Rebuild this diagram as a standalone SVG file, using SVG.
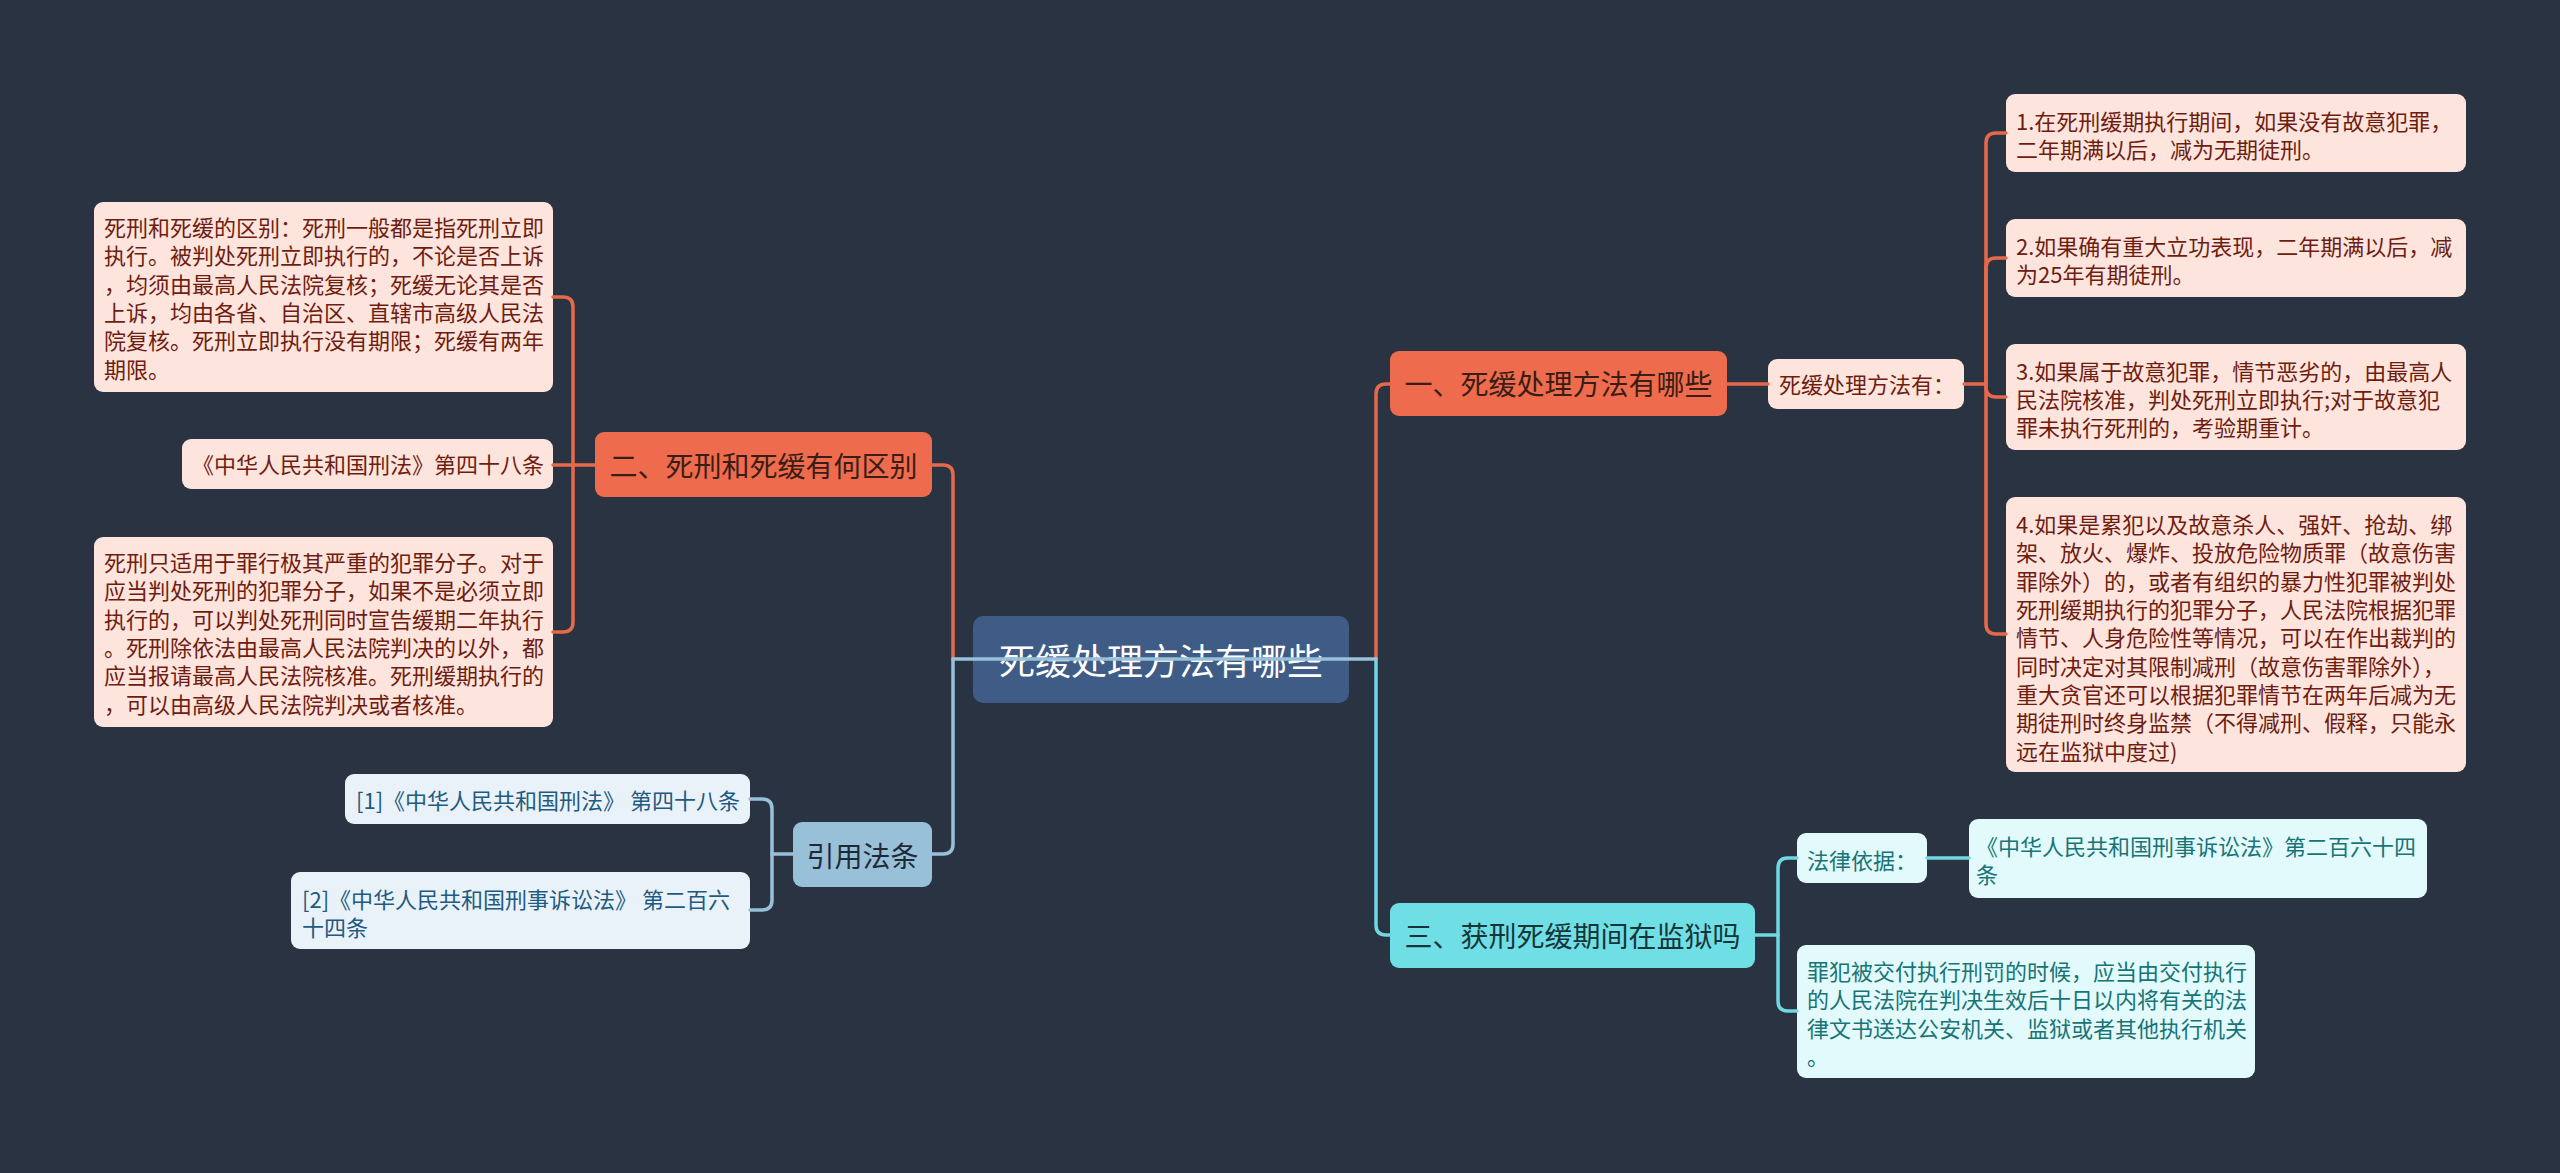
<svg xmlns="http://www.w3.org/2000/svg" width="2560" height="1173" viewBox="0 0 2560 1173">
<style>
text{font-family:"Noto Sans CJK SC","Noto Sans",sans-serif}
.bg{fill:#2a3341}
.root rect{fill:#3f5c86}
.root text{fill:#ffffff;font-size:36px;text-anchor:middle}
.mo rect{fill:#ee6c4d}
.mo text{fill:#3a1d14;font-size:28px;text-anchor:middle}
.mb rect{fill:#98c1d9}
.mb text{fill:#1f2a36;font-size:28px;text-anchor:middle}
.mt rect{fill:#6fdfe5}
.mt text{fill:#163538;font-size:28px;text-anchor:middle}
.lo rect{fill:#fde4dd}
.lo text{fill:#6e1d10;font-size:22px}
.lb rect{fill:#e9f2f8}
.lb text{fill:#1f5a82;font-size:22px}
.lt rect{fill:#e2fafb}
.lt text{fill:#177477;font-size:22px}
#connectors path{fill:none;stroke-width:3.5;stroke-linecap:round;stroke-linejoin:round}
.co{stroke:#e8694a}
.cb{stroke:#98c1d9}
.ct{stroke:#6fd8e0}
</style>
<rect class="bg" x="0" y="0" width="2560" height="1173"/>

<g id="root" class="root">
<rect x="973" y="616" width="376" height="87" rx="10"/>
<text x="1161" y="675">死缓处理方法有哪些</text>
</g>

<g id="n1" class="mo">
<rect x="1390" y="351" width="337" height="65" rx="9"/>
<text x="1558.5" y="395">一、死缓处理方法有哪些</text>
</g>
<g id="n1a" class="lo">
<rect x="1768" y="359" width="196" height="50" rx="9"/>
<text x="1779" y="393">死缓处理方法有：</text>
</g>
<g id="n1a1" class="lo">
<rect x="2006" y="94" width="460" height="78" rx="9"/>
<text x="2016" y="130">1.在死刑缓期执行期间，如果没有故意犯罪，</text>
<text x="2016" y="158">二年期满以后，减为无期徒刑。</text>
</g>
<g id="n1a2" class="lo">
<rect x="2006" y="219" width="460" height="78" rx="9"/>
<text x="2016" y="255">2.如果确有重大立功表现，二年期满以后，减</text>
<text x="2016" y="283">为25年有期徒刑。</text>
</g>
<g id="n1a3" class="lo">
<rect x="2006" y="344" width="460" height="106" rx="9"/>
<text x="2016" y="380">3.如果属于故意犯罪，情节恶劣的，由最高人</text>
<text x="2016" y="408">民法院核准，判处死刑立即执行;对于故意犯</text>
<text x="2016" y="436">罪未执行死刑的，考验期重计。</text>
</g>
<g id="n1a4" class="lo">
<rect x="2006" y="497" width="460" height="275" rx="9"/>
<text x="2016" y="533">4.如果是累犯以及故意杀人、强奸、抢劫、绑</text>
<text x="2016" y="561">架、放火、爆炸、投放危险物质罪（故意伤害</text>
<text x="2016" y="590">罪除外）的，或者有组织的暴力性犯罪被判处</text>
<text x="2016" y="618">死刑缓期执行的犯罪分子，人民法院根据犯罪</text>
<text x="2016" y="646">情节、人身危险性等情况，可以在作出裁判的</text>
<text x="2016" y="675">同时决定对其限制减刑（故意伤害罪除外），</text>
<text x="2016" y="703">重大贪官还可以根据犯罪情节在两年后减为无</text>
<text x="2016" y="731">期徒刑时终身监禁（不得减刑、假释，只能永</text>
<text x="2016" y="760">远在监狱中度过)</text>
</g>

<g id="n2" class="mo">
<rect x="595" y="432" width="337" height="65" rx="9"/>
<text x="763.5" y="477">二、死刑和死缓有何区别</text>
</g>
<g id="n2a" class="lo">
<rect x="94" y="202" width="459" height="190" rx="9"/>
<text x="104" y="236">死刑和死缓的区别：死刑一般都是指死刑立即</text>
<text x="104" y="264">执行。被判处死刑立即执行的，不论是否上诉</text>
<text x="104" y="293">，均须由最高人民法院复核；死缓无论其是否</text>
<text x="104" y="321">上诉，均由各省、自治区、直辖市高级人民法</text>
<text x="104" y="349">院复核。死刑立即执行没有期限；死缓有两年</text>
<text x="104" y="378">期限。</text>
</g>
<g id="n2b" class="lo">
<rect x="182" y="439" width="371" height="50" rx="9"/>
<text x="192" y="473">《中华人民共和国刑法》第四十八条</text>
</g>
<g id="n2c" class="lo">
<rect x="94" y="537" width="459" height="190" rx="9"/>
<text x="104" y="571">死刑只适用于罪行极其严重的犯罪分子。对于</text>
<text x="104" y="599">应当判处死刑的犯罪分子，如果不是必须立即</text>
<text x="104" y="628">执行的，可以判处死刑同时宣告缓期二年执行</text>
<text x="104" y="656">。死刑除依法由最高人民法院判决的以外，都</text>
<text x="104" y="684">应当报请最高人民法院核准。死刑缓期执行的</text>
<text x="104" y="713">，可以由高级人民法院判决或者核准。</text>
</g>

<g id="n3" class="mb">
<rect x="793" y="822" width="139" height="65" rx="9"/>
<text x="862.5" y="867">引用法条</text>
</g>
<g id="n3a" class="lb">
<rect x="345" y="774" width="405" height="50" rx="9"/>
<text x="356" y="809">[1]《中华人民共和国刑法》 第四十八条</text>
</g>
<g id="n3b" class="lb">
<rect x="291" y="872" width="459" height="77" rx="9"/>
<text x="302" y="908">[2]《中华人民共和国刑事诉讼法》 第二百六</text>
<text x="302" y="936">十四条</text>
</g>

<g id="n4" class="mt">
<rect x="1390" y="903" width="365" height="65" rx="9"/>
<text x="1572.5" y="947">三、获刑死缓期间在监狱吗</text>
</g>
<g id="n4a" class="lt">
<rect x="1797" y="833" width="130" height="50" rx="9"/>
<text x="1807" y="869">法律依据：</text>
</g>
<g id="n4a1" class="lt">
<rect x="1969" y="819" width="458" height="79" rx="9"/>
<text x="1976" y="855">《中华人民共和国刑事诉讼法》第二百六十四</text>
<text x="1976" y="883">条</text>
</g>
<g id="n4b" class="lt">
<rect x="1797" y="945" width="458" height="133" rx="9"/>
<text x="1807" y="980">罪犯被交付执行刑罚的时候，应当由交付执行</text>
<text x="1807" y="1008">的人民法院在判决生效后十日以内将有关的法</text>
<text x="1807" y="1037">律文书送达公安机关、监狱或者其他执行机关</text>
<text x="1807" y="1065">。</text>
</g>

<g id="connectors">
<path class="co" d="M953 659 V475 Q953 465 943 465 H932"/>
<path class="cb" d="M953 659 V844 Q953 854 943 854 H932"/>
<path class="co" d="M1376 659 V394 Q1376 384 1386 384 H1390"/>
<path class="ct" d="M1376 659 V925 Q1376 935 1386 935 H1390"/>
<path class="cb" d="M953 659 H1376"/>
<path class="co" d="M1727 384 H1768"/>
<path class="co" d="M1964 384 H1986 V143 Q1986 133 1996 133 H2006"/>
<path class="co" d="M1986 384 V268 Q1986 258 1996 258 H2006"/>
<path class="co" d="M1986 384 V387 Q1986 397 1996 397 H2006"/>
<path class="co" d="M1986 384 V624 Q1986 634 1996 634 H2006"/>
<path class="co" d="M595 465 H573 V307 Q573 297 563 297 H553"/>
<path class="co" d="M573 465 H553"/>
<path class="co" d="M573 465 V622 Q573 632 563 632 H553"/>
<path class="cb" d="M793 854 H772 V809 Q772 799 762 799 H750"/>
<path class="cb" d="M772 854 V900 Q772 910 762 910 H750"/>
<path class="ct" d="M1755 935 H1778 V868 Q1778 858 1788 858 H1797"/>
<path class="ct" d="M1778 935 V1001 Q1778 1011 1788 1011 H1797"/>
<path class="ct" d="M1927 858 H1969"/>
</g>
</svg>
